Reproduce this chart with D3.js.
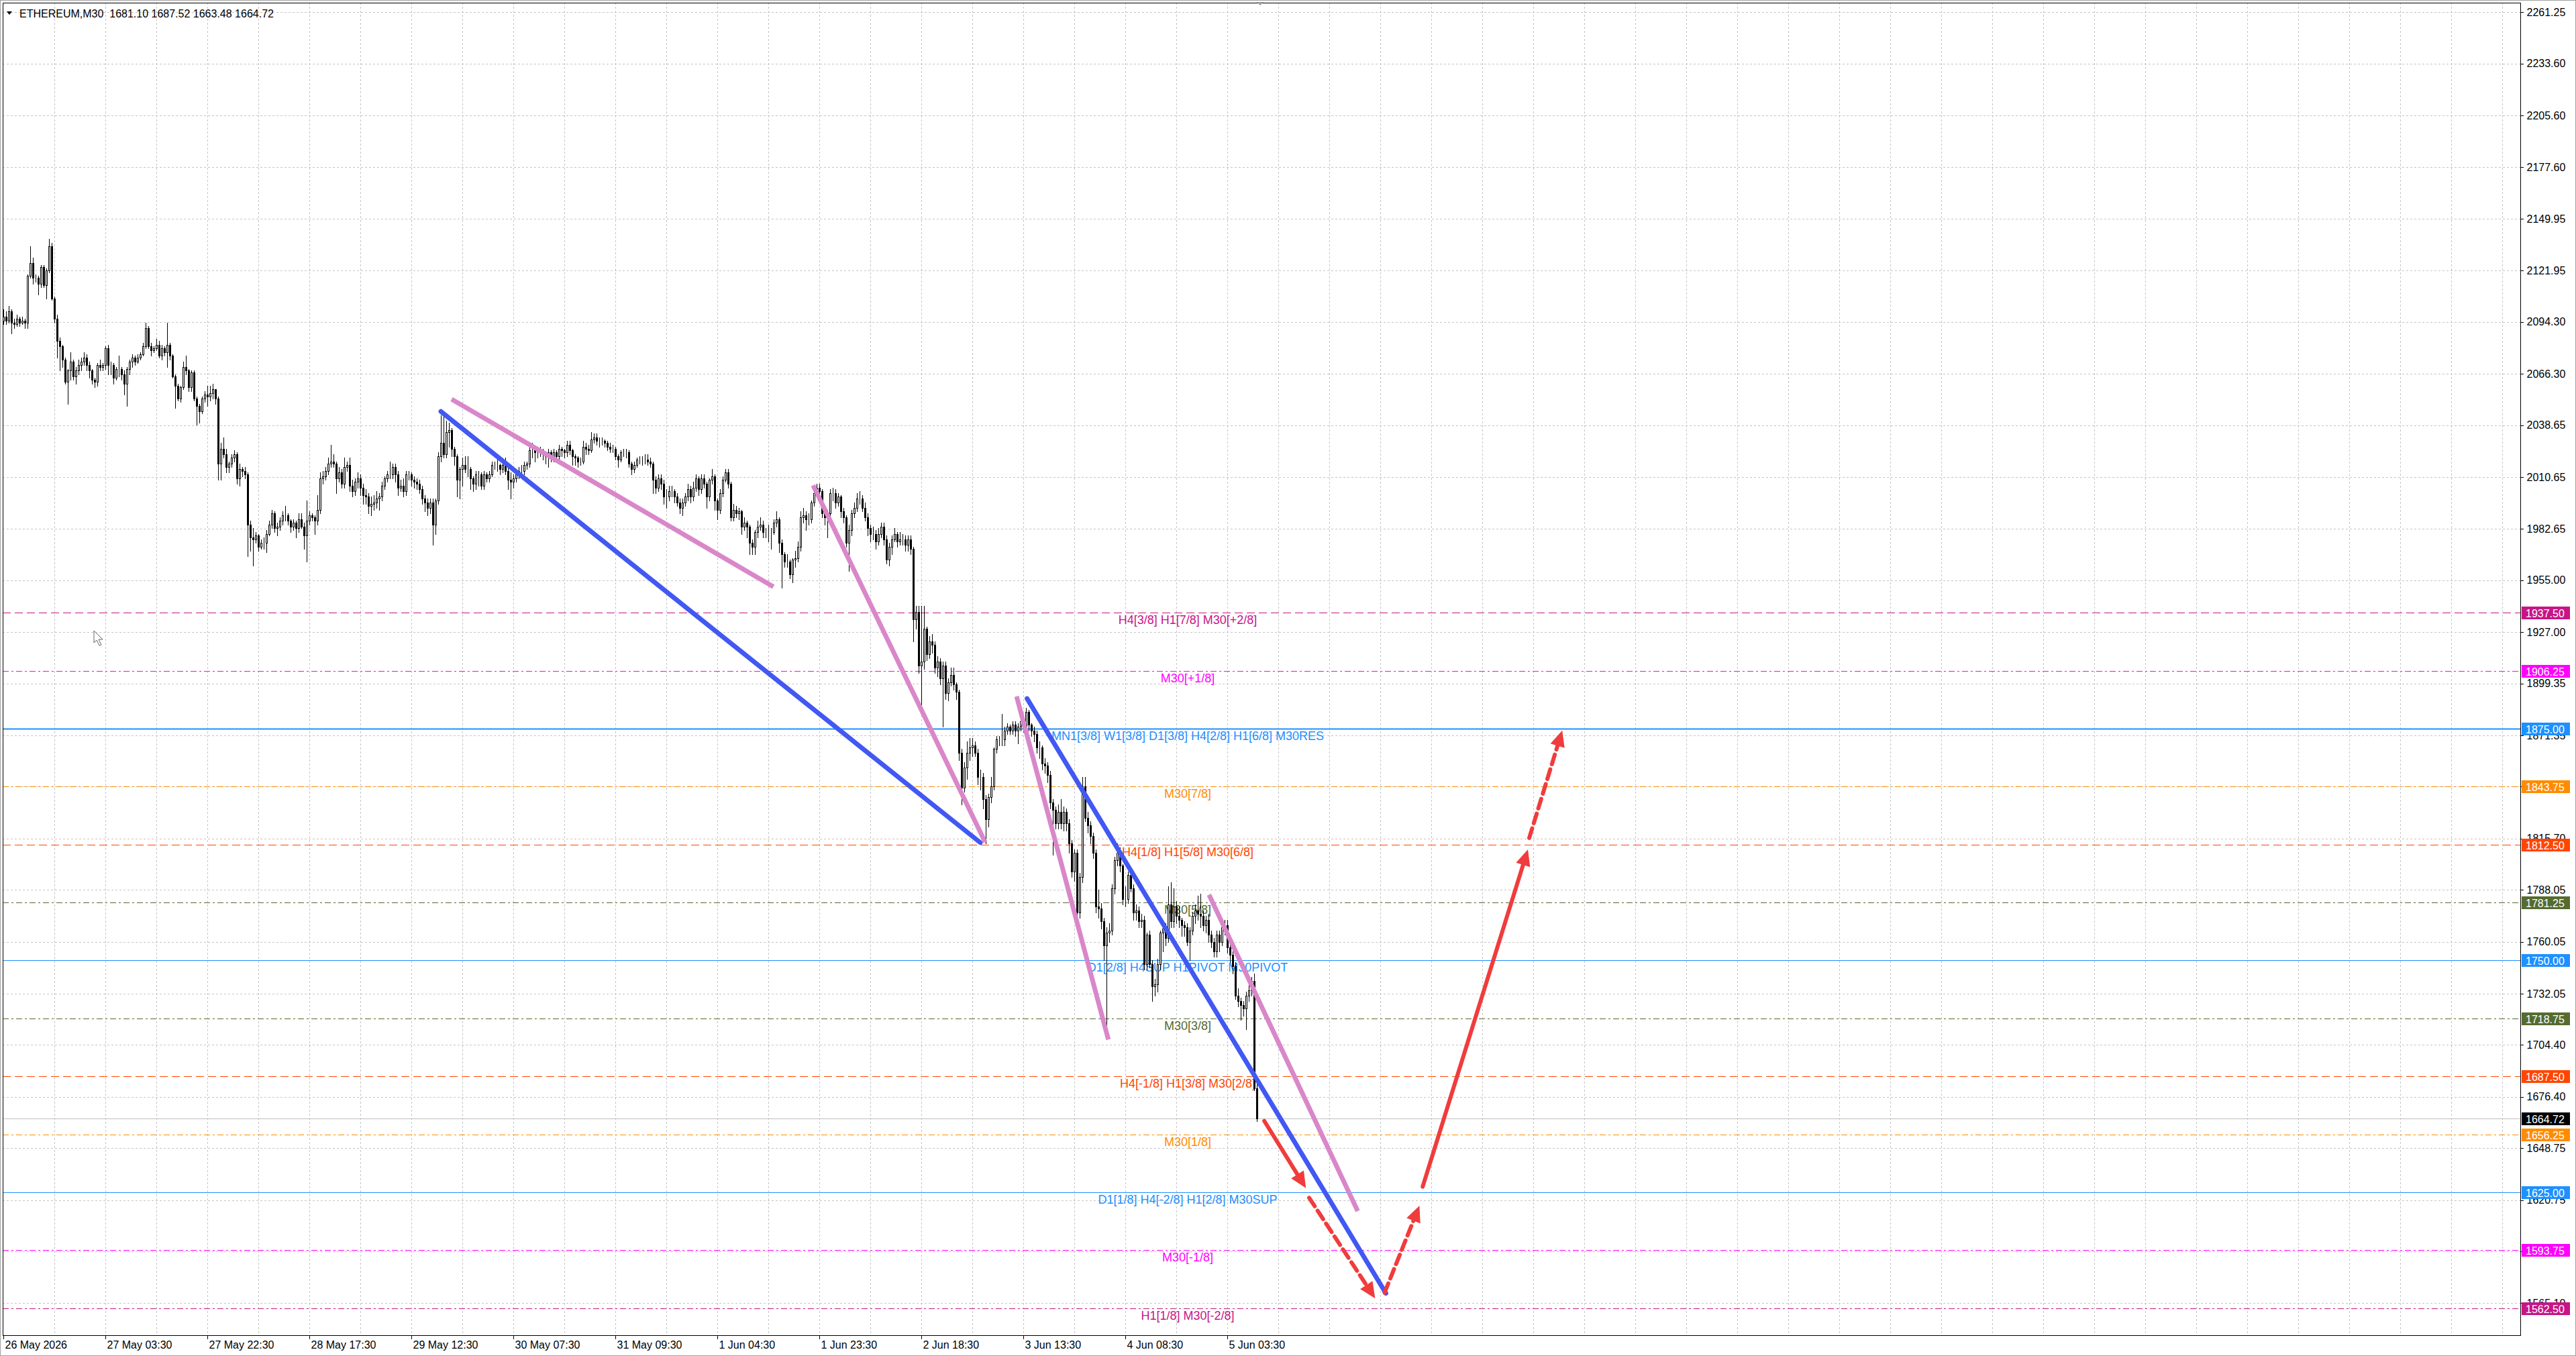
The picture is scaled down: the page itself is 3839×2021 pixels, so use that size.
<!DOCTYPE html>
<html>
<head>
<meta charset="utf-8">
<script src="https://cdn.jsdelivr.net/npm/d3@7"></script>
<style>
    html, body { margin: 0; padding: 0; background: #fff; overflow: hidden; }
    svg { display: block; }
    text { font-family: "Liberation Sans", Arial, sans-serif; }
</style>
</head>
<body>
<svg id="chart"></svg>
<script>
// ETHEREUM M30 bars (open = previous close)
const firstOpen = 2095;
const closes = [
    2097, 2095, 2100, 2094, 2093, 2096, 2094, 2095, 2094, 2119,
    2126, 2118, 2118, 2115, 2124, 2114, 2122, 2135, 2107, 2096,
    2084, 2081, 2074, 2062, 2068, 2073, 2065, 2068, 2071, 2073,
    2075, 2071, 2068, 2063, 2062, 2071, 2070, 2071, 2080, 2071,
    2071, 2064, 2069, 2069, 2066, 2061, 2069, 2073, 2075, 2073,
    2075, 2077, 2081, 2091, 2081, 2079, 2080, 2082, 2076, 2080,
    2078, 2082, 2076, 2065, 2060, 2053, 2059, 2070, 2068, 2059,
    2067, 2053, 2049, 2046, 2053, 2055, 2054, 2056, 2058, 2053,
    2018, 2026, 2023, 2016, 2018, 2021, 2023, 2010, 2015, 2014,
    2012, 1985, 1978, 1977, 1979, 1973, 1975, 1975, 1980, 1985,
    1991, 1983, 1984, 1987, 1990, 1990, 1987, 1984, 1986, 1983,
    1988, 1984, 1979, 1987, 1990, 1989, 1987, 1993, 2010, 2011,
    2014, 2018, 2019, 2018, 2010, 2013, 2007, 2016, 2017, 2006,
    2003, 2008, 2010, 2005, 2001, 2000, 1995, 1996, 1997, 1999,
    2000, 2006, 2010, 2012, 2012, 2016, 2012, 2005, 2006, 2003,
    2012, 2012, 2009, 2008, 2007, 2004, 1999, 1997, 1994, 1997,
    1985, 1998, 2022, 2029, 2023, 2035, 2036, 2026, 2022, 2009,
    2015, 2017, 2015, 2015, 2010, 2007, 2012, 2012, 2006, 2012,
    2010, 2012, 2017, 2017, 2017, 2015, 2017, 2014, 2009, 2008,
    2010, 2012, 2014, 2014, 2017, 2018, 2025, 2025, 2024, 2024,
    2025, 2023, 2022, 2024, 2022, 2024, 2022, 2026, 2025, 2024,
    2028, 2025, 2022, 2021, 2019, 2019, 2027, 2026, 2025, 2031,
    2032, 2030, 2030, 2030, 2029, 2027, 2026, 2026, 2022, 2020,
    2024, 2024, 2024, 2018, 2015, 2017, 2020, 2020, 2020, 2020,
    2019, 2018, 2009, 2005, 2010, 2007, 2000, 2000, 2003, 2003,
    2000, 1997, 1994, 1997, 2000, 2004, 2000, 2005, 2010, 2004,
    2010, 2007, 2000, 2009, 2011, 1998, 1993, 2002, 2009, 2013,
    2007, 1989, 1993, 1991, 1992, 1984, 1986, 1984, 1975, 1973,
    1981, 1984, 1985, 1981, 1981, 1981, 1981, 1986, 1988, 1975,
    1969, 1965, 1965, 1958, 1966, 1967, 1973, 1989, 1990, 1988,
    1988, 1997, 2002, 2005, 2003, 1991, 1989, 1991, 2002, 2002,
    1997, 2000, 1992, 1989, 1975, 1982, 1991, 1994, 1999, 1999,
    1994, 1989, 1983, 1980, 1980, 1976, 1980, 1984, 1977, 1966,
    1973, 1977, 1980, 1976, 1977, 1977, 1974, 1977, 1972, 1934,
    1938, 1909, 1911, 1929, 1915, 1922, 1920, 1908, 1911, 1902,
    1909, 1894, 1900, 1904, 1899, 1895, 1862, 1843, 1854, 1862,
    1865, 1866, 1862, 1849, 1849, 1837, 1826, 1838, 1844, 1864,
    1869, 1869, 1869, 1874, 1876, 1874, 1877, 1874, 1876, 1879,
    1875, 1884, 1877, 1874, 1872, 1865, 1865, 1856, 1855, 1850,
    1835, 1831, 1824, 1830, 1824, 1830, 1824, 1813, 1798, 1808,
    1776, 1795, 1844, 1827, 1823, 1817, 1808, 1779, 1778, 1771,
    1758, 1765, 1766, 1789, 1804, 1808, 1801, 1783, 1783, 1796,
    1789, 1776, 1777, 1771, 1772, 1748, 1764, 1748, 1736, 1737,
    1748, 1765, 1767, 1762, 1780, 1771, 1779, 1774, 1772, 1769,
    1768, 1760, 1766, 1774, 1777, 1775, 1774, 1769, 1772, 1764,
    1760, 1755, 1764, 1760, 1768, 1769, 1757, 1753, 1747, 1731,
    1728, 1726, 1724, 1731, 1734, 1739, 1681.10, 1664.72
];
const highs = [
    2101, 2100, 2103, 2101, 2096, 2098, 2097, 2097, 2096, 2120,
    2135, 2129, 2120, 2119, 2125, 2125, 2123, 2139, 2137, 2108,
    2098, 2086, 2082, 2075, 2069, 2078, 2074, 2070, 2074, 2075,
    2078, 2077, 2073, 2069, 2064, 2072, 2074, 2072, 2081, 2082,
    2073, 2072, 2070, 2076, 2070, 2068, 2070, 2074, 2077, 2076,
    2077, 2078, 2083, 2094, 2092, 2083, 2081, 2085, 2084, 2082,
    2081, 2094, 2083, 2077, 2066, 2061, 2060, 2073, 2076, 2069,
    2068, 2068, 2054, 2050, 2054, 2057, 2060, 2060, 2061, 2058,
    2054, 2029, 2032, 2026, 2019, 2023, 2025, 2024, 2018, 2016,
    2016, 2013, 1987, 1983, 1981, 1980, 1977, 1978, 1982, 1987,
    1993, 1992, 1986, 1989, 1992, 1995, 1991, 1988, 1988, 1987,
    1991, 1991, 1986, 1998, 1992, 1991, 1990, 2001, 2013, 2014,
    2016, 2021, 2028, 2023, 2019, 2016, 2015, 2021, 2019, 2021,
    2009, 2010, 2013, 2012, 2007, 2004, 2002, 2000, 2001, 2003,
    2002, 2008, 2011, 2014, 2019, 2018, 2018, 2014, 2009, 2010,
    2014, 2014, 2013, 2011, 2010, 2009, 2006, 2001, 1999, 1999,
    1999, 1999, 2024, 2044, 2046, 2041, 2040, 2037, 2027, 2023,
    2016, 2021, 2022, 2022, 2016, 2011, 2014, 2014, 2013, 2014,
    2013, 2014, 2019, 2019, 2020, 2018, 2019, 2021, 2016, 2013,
    2012, 2014, 2016, 2017, 2019, 2019, 2027, 2029, 2027, 2026,
    2027, 2026, 2024, 2026, 2025, 2026, 2025, 2028, 2027, 2026,
    2030, 2030, 2026, 2023, 2022, 2021, 2030, 2029, 2028, 2035,
    2034, 2034, 2032, 2032, 2031, 2030, 2029, 2028, 2027, 2023,
    2025, 2026, 2026, 2025, 2019, 2019, 2021, 2022, 2022, 2023,
    2023, 2021, 2019, 2011, 2012, 2012, 2009, 2004, 2006, 2006,
    2004, 2002, 1999, 1999, 2002, 2007, 2006, 2008, 2012, 2011,
    2012, 2012, 2008, 2010, 2015, 2012, 1999, 2004, 2011, 2015,
    2015, 2008, 1996, 1995, 1994, 1993, 1989, 1987, 1985, 1977,
    1982, 1987, 1989, 1987, 1983, 1985, 1983, 1988, 1992, 1989,
    1977, 1970, 1969, 1966, 1967, 1971, 1976, 1992, 1994, 1992,
    1991, 1998, 2006, 2007, 2007, 2004, 1993, 1993, 2004, 2005,
    2004, 2002, 2001, 1994, 1990, 1985, 1993, 1997, 2002, 2003,
    2001, 1997, 1991, 1985, 1984, 1982, 1983, 1986, 1986, 1979,
    1975, 1979, 1983, 1981, 1981, 1980, 1979, 1979, 1979, 1973,
    1941, 1941, 1941, 1941, 1930, 1925, 1926, 1922, 1914, 1913,
    1911, 1911, 1902, 1908, 1908, 1900, 1896, 1864, 1857, 1868,
    1870, 1870, 1868, 1864, 1853, 1851, 1839, 1840, 1849, 1865,
    1871, 1871, 1883, 1876, 1878, 1877, 1879, 1879, 1878, 1881,
    1881, 1886, 1885, 1878, 1876, 1874, 1868, 1866, 1859, 1857,
    1852, 1837, 1833, 1834, 1837, 1833, 1832, 1826, 1815, 1810,
    1810, 1797, 1849, 1849, 1830, 1825, 1819, 1810, 1788, 1781,
    1773, 1768, 1770, 1791, 1806, 1813, 1811, 1802, 1790, 1798,
    1798, 1791, 1780, 1779, 1775, 1774, 1765, 1766, 1750, 1740,
    1751, 1766, 1772, 1770, 1790, 1792, 1789, 1782, 1779, 1773,
    1771, 1770, 1768, 1776, 1780, 1785, 1786, 1777, 1774, 1775,
    1766, 1762, 1766, 1766, 1770, 1772, 1772, 1760, 1755, 1749,
    1735, 1730, 1728, 1733, 1737, 1741, 1743, 1687.52
];
const lows = [
    2093, 2093, 2094, 2088, 2091, 2092, 2092, 2093, 2091, 2091,
    2118, 2115, 2116, 2109, 2113, 2113, 2107, 2121, 2106, 2094,
    2075, 2068, 2070, 2061, 2050, 2063, 2063, 2061, 2066, 2068,
    2071, 2068, 2064, 2061, 2059, 2060, 2068, 2068, 2069, 2066,
    2066, 2061, 2063, 2065, 2063, 2055, 2049, 2066, 2070, 2071,
    2072, 2074, 2076, 2080, 2080, 2076, 2078, 2079, 2075, 2074,
    2076, 2070, 2074, 2064, 2048, 2052, 2051, 2058, 2066, 2057,
    2057, 2052, 2039, 2040, 2045, 2051, 2049, 2052, 2053, 2050,
    2009, 2009, 2021, 2013, 2013, 2016, 2019, 2007, 2006, 2011,
    2010, 1968, 1971, 1963, 1975, 1971, 1972, 1972, 1970, 1979,
    1983, 1981, 1979, 1982, 1985, 1987, 1985, 1981, 1982, 1978,
    1981, 1983, 1972, 1965, 1985, 1987, 1980, 1985, 1991, 2007,
    2009, 2012, 2016, 2016, 2002, 2008, 2005, 2005, 2014, 2003,
    2000, 2001, 2005, 2001, 1996, 1996, 1991, 1990, 1993, 1994,
    1993, 1998, 2004, 2008, 2010, 2010, 2008, 2001, 2003, 2000,
    2001, 2009, 2006, 2005, 2004, 2002, 1996, 1992, 1990, 1991,
    1974, 1980, 1996, 2019, 2021, 2021, 2027, 2022, 2017, 2000,
    1999, 2006, 2013, 2011, 2004, 2003, 2004, 2006, 2004, 2004,
    2008, 2008, 2011, 2015, 2014, 2012, 2013, 2012, 2004, 1999,
    2005, 2008, 2010, 2012, 2012, 2015, 2016, 2021, 2019, 2021,
    2022, 2020, 2018, 2016, 2019, 2019, 2019, 2020, 2022, 2021,
    2022, 2023, 2017, 2017, 2016, 2017, 2018, 2023, 2023, 2024,
    2029, 2028, 2027, 2028, 2027, 2025, 2024, 2024, 2020, 2016,
    2019, 2022, 2021, 2016, 2012, 2013, 2016, 2018, 2017, 2018,
    2017, 2016, 2002, 2002, 2003, 2004, 1996, 1994, 1998, 2000,
    1997, 1995, 1991, 1990, 1995, 1998, 1997, 1998, 2003, 2001,
    2002, 2005, 1994, 1998, 2007, 1993, 1988, 1991, 2000, 2008,
    2005, 1987, 1987, 1989, 1988, 1980, 1982, 1978, 1969, 1969,
    1969, 1978, 1982, 1978, 1978, 1976, 1972, 1980, 1984, 1970,
    1951, 1962, 1962, 1956, 1954, 1962, 1965, 1971, 1986, 1982,
    1985, 1986, 1995, 2001, 2000, 1989, 1985, 1978, 1989, 1998,
    1994, 1995, 1989, 1986, 1973, 1960, 1979, 1989, 1992, 1996,
    1992, 1987, 1979, 1976, 1977, 1972, 1974, 1978, 1974, 1964,
    1963, 1969, 1976, 1973, 1974, 1974, 1971, 1971, 1969, 1922,
    1929, 1905, 1888, 1907, 1912, 1913, 1916, 1905, 1903, 1899,
    1876, 1891, 1890, 1898, 1896, 1891, 1858, 1834, 1841, 1848,
    1858, 1860, 1860, 1845, 1842, 1832, 1813, 1822, 1835, 1842,
    1862, 1866, 1866, 1866, 1872, 1872, 1872, 1871, 1867, 1874,
    1873, 1873, 1874, 1871, 1868, 1862, 1859, 1853, 1851, 1846,
    1832, 1807, 1821, 1821, 1821, 1820, 1820, 1808, 1795, 1793,
    1772, 1773, 1792, 1825, 1819, 1813, 1805, 1776, 1773, 1767,
    1750, 1712, 1760, 1764, 1786, 1801, 1798, 1780, 1779, 1781,
    1787, 1772, 1772, 1768, 1768, 1745, 1745, 1746, 1728, 1731,
    1733, 1745, 1755, 1758, 1760, 1768, 1768, 1770, 1768, 1763,
    1763, 1758, 1750, 1764, 1770, 1772, 1768, 1766, 1765, 1760,
    1757, 1752, 1752, 1755, 1758, 1764, 1754, 1749, 1743, 1729,
    1725, 1718, 1720, 1713, 1728, 1731, 1680, 1663.48
];

// time axis: one label every 38 bars
const timeLabels = ["26 May 2026", "27 May 03:30", "27 May 22:30", "28 May 17:30", "29 May 12:30",
    "30 May 07:30", "31 May 09:30", "1 Jun 04:30", "1 Jun 23:30", "2 Jun 18:30",
    "3 Jun 13:30", "4 Jun 08:30", "5 Jun 03:30"];
const timeLabelBars = [0, 38, 76, 114, 152, 190, 228, 266, 304, 342, 380, 418, 456];

const priceTicks = [2261.25, 2233.60, 2205.60, 2177.60, 2149.95, 2121.95, 2094.30, 2066.30, 2038.65,
    2010.65, 1982.65, 1955.00, 1927.00, 1899.35, 1871.35, 1843.70, 1815.70, 1788.05, 1760.05,
    1732.05, 1704.40, 1676.40, 1648.75, 1620.75, 1593.10, 1565.10];

// Murrey math levels
const levelPrices = [1937.50, 1906.25, 1875.00, 1843.75, 1812.50, 1781.25, 1750.00,
    1718.75, 1687.50, 1656.25, 1625.00, 1593.75, 1562.50];
const levelNames = [
    "H4[3/8] H1[7/8] M30[+2/8]",
    "M30[+1/8]",
    "MN1[3/8] W1[3/8] D1[3/8] H4[2/8] H1[6/8] M30RES",
    "M30[7/8]",
    "H4[1/8] H1[5/8] M30[6/8]",
    "M30[5/8]",
    "D1[2/8] H4SUP H1PIVOT M30PIVOT",
    "M30[3/8]",
    "H4[-1/8] H1[3/8] M30[2/8]",
    "M30[1/8]",
    "D1[1/8] H4[-2/8] H1[2/8] M30SUP",
    "M30[-1/8]",
    "H1[1/8] M30[-2/8]"
];
const lastPrice = 1664.72;
const headerText = "ETHEREUM,M30  1681.10 1687.52 1663.48 1664.72";

// drawn objects, [bar, price] pairs
const blueLines = [
    [[163, 2046], [364, 1813.5]],
    [[381.4, 1891.2], [515.1, 1570.5]]
];
const pinkLines = [
    [[167, 2052.6], [286.9, 1951.5]],
    [[301.7, 2006.2], [365.8, 1813.7]],
    [[377.5, 1892.4], [411.7, 1707.3]],
    [[449.2, 1785.4], [504.6, 1614.8]]
];
const arrowPaths = [
    [[469.8, 1663.4], [485.3, 1627.2]],
    [[486.5, 1622.0], [511.1, 1567.7]],
    [[514.6, 1570.8], [527.6, 1617.7]],
    [[528.8, 1628.0], [568.0, 1809.8]],
    [[568.5, 1816.0], [580.8, 1874.0]]
];
const arrowDashed = [false, true, true, false, true];

// ---------- styles ----------
const VIOLET = "#C71585", MAGENTA = "#FF00FF", BLUE = "#1E90FF", ORANGE = "#FF8C00",
    RED = "#FF4500", OLIVE = "#556B2F";
const levelColors = [VIOLET, MAGENTA, BLUE, ORANGE, RED, OLIVE, BLUE, OLIVE, RED, ORANGE, BLUE, MAGENTA, VIOLET];
const DASH = "12,6", DASHDOT = "9,4,3,4";
const levelDash = [DASH, DASHDOT, null, DASHDOT, DASH, DASHDOT, null, DASHDOT, DASH, DASHDOT, null, DASHDOT, DASHDOT];
const levelWidth = [1, 1, 2, 1, 1, 1, 1, 1, 1, 1, 1, 1, 1];

const width = 3839, height = 2021;
const plotL = 4, plotT = 4, plotR = 3756, plotB = 1990;

const svg = d3.select("#chart").attr("width", width).attr("height", height);

const x = d3.scaleLinear().domain([0, 937.75]).range([5, 3756]);
const y = d3.scaleLinear().domain([1547.9, 2266.05]).range([1990, 5]);
const px = v => Math.round(x(v)) + 0.5;
const py = v => Math.round(y(v)) + 0.5;

// outer window frame
svg.append("rect")
    .attr("x", 0.5).attr("y", 0.5)
    .attr("width", width - 1).attr("height", height - 1)
    .attr("fill", "#fff").attr("stroke", "#a0a0a0");

// grid
const grid = svg.append("g").attr("shape-rendering", "crispEdges")
    .attr("stroke", "#c4c4c4").attr("stroke-dasharray", "3,3");
grid.selectAll("line.h").data(priceTicks).join("line")
    .attr("class", "h")
    .attr("x1", plotL).attr("x2", plotR)
    .attr("y1", d => py(d)).attr("y2", d => py(d));
grid.selectAll("line.v").data(d3.range(19, 937, 19)).join("line")
    .attr("class", "v")
    .attr("x1", d => px(d)).attr("x2", d => px(d))
    .attr("y1", plotT).attr("y2", plotB);

// level lines
const levels = svg.append("g");
levels.selectAll("line").data(levelPrices).join("line")
    .attr("x1", plotL).attr("x2", plotR)
    .attr("y1", d => py(d)).attr("y2", d => py(d))
    .attr("stroke", (d, i) => levelColors[i])
    .attr("stroke-width", (d, i) => levelWidth[i])
    .attr("stroke-dasharray", (d, i) => levelDash[i]);

// bid line
svg.append("line")
    .attr("x1", plotL).attr("x2", plotR)
    .attr("y1", py(lastPrice)).attr("y2", py(lastPrice))
    .attr("stroke", "#c0c0c0");

levels.selectAll("text").data(levelPrices).join("text")
    .attr("x", 1770)
    .attr("y", d => y(d) + 17)
    .attr("text-anchor", "middle")
    .attr("font-size", 18)
    .attr("fill", (d, i) => levelColors[i])
    .text((d, i) => levelNames[i]);

// candles
const bars = closes.map((c, i) => {
    const o = i === 0 ? firstOpen : closes[i - 1];
    return {i, o, c, h: Math.max(highs[i], o, c), l: Math.min(lows[i], o, c)};
});

const candles = svg.append("g").attr("shape-rendering", "crispEdges");
candles.selectAll("line").data(bars).join("line")
    .attr("x1", d => px(d.i)).attr("x2", d => px(d.i))
    .attr("y1", d => Math.round(y(d.h))).attr("y2", d => Math.round(y(d.l)) + 1)
    .attr("stroke", "#000");
candles.selectAll("rect").data(bars).join("rect")
    .attr("x", d => px(d.i) - 1)
    .attr("y", d => py(Math.max(d.o, d.c)))
    .attr("width", 2)
    .attr("height", d => Math.max(0, py(Math.min(d.o, d.c)) - py(Math.max(d.o, d.c))))
    .attr("fill", d => d.c >= d.o ? "#fff" : "#000")
    .attr("stroke", "#000");

// trend lines
const lineGen = d3.line().x(d => x(d[0])).y(d => y(d[1]));
svg.append("g").selectAll("path").data(blueLines).join("path")
    .attr("d", lineGen)
    .attr("stroke", "#4258F2").attr("stroke-width", 7)
    .attr("stroke-linecap", "round").attr("fill", "none");
svg.append("g").selectAll("path").data(pinkLines).join("path")
    .attr("d", lineGen)
    .attr("stroke", "#D987C9").attr("stroke-width", 7)
    .attr("stroke-linecap", "butt").attr("fill", "none");

// red arrows
const arrowG = svg.append("g");
arrowPaths.forEach((seg, k) => {
    const x1 = x(seg[0][0]), y1 = y(seg[0][1]);
    const x2 = x(seg[1][0]), y2 = y(seg[1][1]);
    const ang = Math.atan2(y2 - y1, x2 - x1);
    const headLen = 24, headW = 11;
    const bx = x2 - headLen * Math.cos(ang), by = y2 - headLen * Math.sin(ang);
    arrowG.append("line")
        .attr("x1", x1).attr("y1", y1)
        .attr("x2", bx + 2 * Math.cos(ang)).attr("y2", by + 2 * Math.sin(ang))
        .attr("stroke", "#F03C3C").attr("stroke-width", 6)
        .attr("stroke-linecap", "round")
        .attr("stroke-dasharray", arrowDashed[k] ? "15,8" : null);
    const nx = -Math.sin(ang), ny = Math.cos(ang);
    arrowG.append("path")
        .attr("d", `M${x2},${y2}L${bx + nx * headW},${by + ny * headW}L${bx - nx * headW},${by - ny * headW}Z`)
        .attr("fill", "#F03C3C");
});

// plot frame
svg.append("rect")
    .attr("x", plotL + 0.5).attr("y", plotT + 0.5)
    .attr("width", plotR - plotL).attr("height", plotB - plotT)
    .attr("fill", "none").attr("stroke", "#000")
    .attr("shape-rendering", "crispEdges");

// price axis
const yAxis = svg.append("g")
    .attr("transform", `translate(${plotR + 0.5},0)`)
    .attr("shape-rendering", "crispEdges")
    .call(d3.axisRight(y).tickValues(priceTicks).tickFormat(d3.format(".2f")).tickSize(4).tickPadding(5));
yAxis.select(".domain").remove();
yAxis.selectAll("text").attr("font-size", 16).attr("fill", "#000")
    .attr("font-family", "'Liberation Sans', Arial, sans-serif");

// level price boxes
const boxes = svg.append("g");
const boxData = levelPrices.map((p, i) => ({p, color: levelColors[i]}))
    .concat([{p: lastPrice, color: "#000"}]);
boxes.selectAll("rect").data(boxData).join("rect")
    .attr("x", plotR + 2).attr("y", d => Math.round(y(d.p)) - 9)
    .attr("width", 72).attr("height", 19)
    .attr("fill", d => d.color);
boxes.selectAll("text").data(boxData).join("text")
    .attr("x", plotR + 8).attr("y", d => Math.round(y(d.p)) + 1)
    .attr("dy", "0.35em")
    .attr("font-size", 16).attr("fill", "#fff")
    .text(d => d3.format(".2f")(d.p));

// time axis
const xAxis = svg.append("g")
    .attr("transform", `translate(0,${plotB + 0.5})`)
    .attr("shape-rendering", "crispEdges")
    .call(d3.axisBottom(x).tickValues(timeLabelBars).tickFormat((d, i) => timeLabels[i]).tickSize(5).tickPadding(3));
xAxis.select(".domain").remove();
xAxis.selectAll("text").attr("font-size", 16).attr("fill", "#000")
    .attr("text-anchor", "start").attr("dx", 2)
    .attr("font-family", "'Liberation Sans', Arial, sans-serif");

// header
svg.append("path").attr("d", "M10,17L18,17L14,22Z").attr("fill", "#000");
svg.append("text").attr("x", 29).attr("y", 26)
    .attr("font-size", 16).attr("fill", "#000")
    .style("white-space", "pre")
    .text(headerText);

// shift marker and mouse pointer
svg.append("path").attr("d", "M1873,3L1883,3L1878,8Z").attr("fill", "#9a9a9a");
svg.append("path")
    .attr("d", "M140,940L140,958L144,954L148,962L151,961L147,953L153,953Z")
    .attr("fill", "#fff").attr("stroke", "#666").attr("stroke-width", 1);
</script>
</body>
</html>
